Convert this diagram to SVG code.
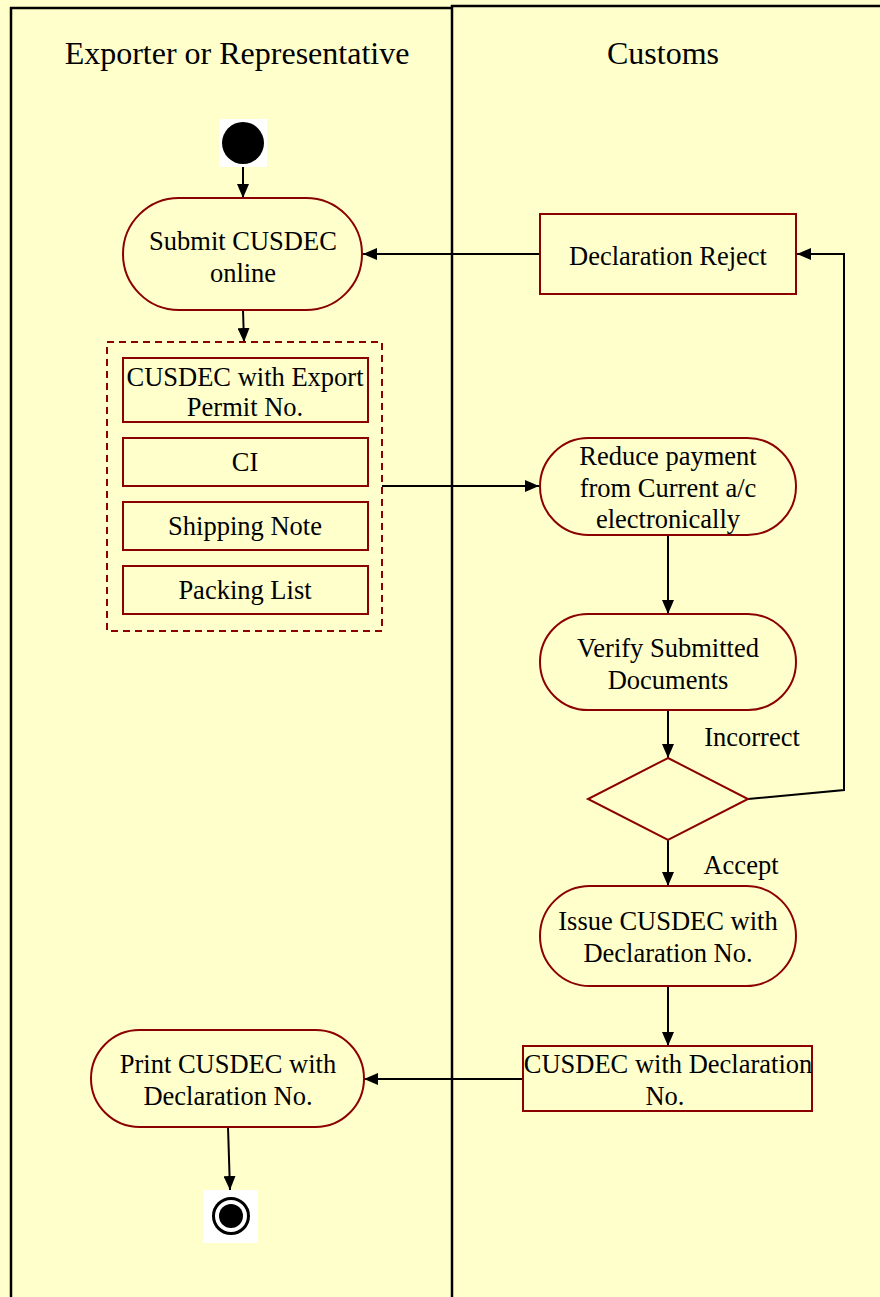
<svg xmlns="http://www.w3.org/2000/svg" width="880" height="1297" viewBox="0 0 880 1297">
<style>
text{font-family:"Liberation Serif","Times New Roman",serif;fill:#000;text-anchor:middle}
.t{font-size:26.5px}
.h{font-size:32px}
.n{fill:#FFFFCC;stroke:#8B0000;stroke-width:2}
.c{fill:none;stroke:#000;stroke-width:2}
.lane{fill:none;stroke:#000;stroke-width:2.5}
</style>
<defs>
<marker id="ah" viewBox="0 0 14 12" refX="14" refY="6" markerWidth="14" markerHeight="12" markerUnits="userSpaceOnUse" orient="auto">
<path d="M0,0 L14,6 L0,12 Z" fill="#000"/>
</marker>
</defs>
<rect x="0" y="0" width="880" height="1297" fill="#FFFFCC"/>
<g id="lanes">
<path class="lane" d="M11,1297 V8 H452"/>
<path class="lane" d="M452,1297 V6 H880"/>
<text class="h" x="237" y="64">Exporter or Representative</text>
<text class="h" x="663" y="64">Customs</text>
</g>
<g id="connectors">
<line class="c" x1="243" y1="167" x2="243" y2="198" marker-end="url(#ah)"/>
<line class="c" x1="243" y1="310" x2="244" y2="342" marker-end="url(#ah)"/>
<line class="c" x1="540" y1="254" x2="363" y2="254" marker-end="url(#ah)"/>
<line class="c" x1="382" y1="486" x2="539" y2="486" marker-end="url(#ah)"/>
<line class="c" x1="668" y1="535" x2="668" y2="614" marker-end="url(#ah)"/>
<line class="c" x1="668" y1="710" x2="668" y2="758" marker-end="url(#ah)"/>
<polyline class="c" points="748,799 844,790 844,254 797,254" marker-end="url(#ah)"/>
<line class="c" x1="668" y1="840" x2="668" y2="886" marker-end="url(#ah)"/>
<line class="c" x1="668" y1="986" x2="668" y2="1046" marker-end="url(#ah)"/>
<line class="c" x1="523" y1="1079" x2="364" y2="1079" marker-end="url(#ah)"/>
<line class="c" x1="228" y1="1127" x2="230" y2="1190" marker-end="url(#ah)"/>
<text class="t" x="752" y="746">Incorrect</text>
<text class="t" x="741" y="874">Accept</text>
</g>
<g id="start">
<rect x="219" y="119" width="48" height="48" fill="#fff"/>
<circle cx="243" cy="143" r="21" fill="#000"/>
</g>
<g id="submit">
<rect class="n" x="123" y="198" width="239" height="112" rx="56"/>
<text class="t" x="243" y="250">Submit CUSDEC</text>
<text class="t" x="243" y="282">online</text>
</g>
<g id="documents">
<rect x="107" y="342" width="275" height="289" fill="none" stroke="#8B0000" stroke-width="2" stroke-dasharray="7,5"/>
<rect class="n" x="123" y="358" width="245" height="64"/>
<text class="t" x="245" y="386">CUSDEC with Export</text>
<text class="t" x="245" y="416">Permit No.</text>
<rect class="n" x="123" y="438" width="245" height="48"/>
<text class="t" x="245" y="471">CI</text>
<rect class="n" x="123" y="502" width="245" height="48"/>
<text class="t" x="245" y="535">Shipping Note</text>
<rect class="n" x="123" y="566" width="245" height="48"/>
<text class="t" x="245" y="599">Packing List</text>
</g>
<g id="reject">
<rect class="n" x="540" y="214" width="256" height="80"/>
<text class="t" x="668" y="265">Declaration Reject</text>
</g>
<g id="reduce">
<rect class="n" x="540" y="438" width="256" height="97" rx="48.5"/>
<text class="t" x="668" y="465">Reduce payment</text>
<text class="t" x="668" y="497">from Current a/c</text>
<text class="t" x="668" y="528">electronically</text>
</g>
<g id="verify">
<rect class="n" x="540" y="614" width="256" height="96" rx="48"/>
<text class="t" x="668" y="657">Verify Submitted</text>
<text class="t" x="668" y="689">Documents</text>
</g>
<g id="decision">
<polygon class="n" points="668,758 748,799 668,840 588,799"/>
</g>
<g id="issue">
<rect class="n" x="540" y="886" width="256" height="100" rx="50"/>
<text class="t" x="668" y="930">Issue CUSDEC with</text>
<text class="t" x="668" y="962">Declaration No.</text>
</g>
<g id="cusdecdecl">
<rect class="n" x="523" y="1046" width="289" height="65"/>
<text class="t" x="668" y="1073">CUSDEC with Declaration</text>
<text class="t" x="665" y="1105">No.</text>
</g>
<g id="print">
<rect class="n" x="91" y="1030" width="273" height="97" rx="48.5"/>
<text class="t" x="228" y="1073">Print CUSDEC with</text>
<text class="t" x="228" y="1105">Declaration No.</text>
</g>
<g id="end">
<rect x="203" y="1190" width="55" height="53" fill="#fff"/>
<circle cx="231" cy="1216" r="17.5" fill="none" stroke="#000" stroke-width="3"/>
<circle cx="231" cy="1216" r="12" fill="#000"/>
</g>
</svg>
